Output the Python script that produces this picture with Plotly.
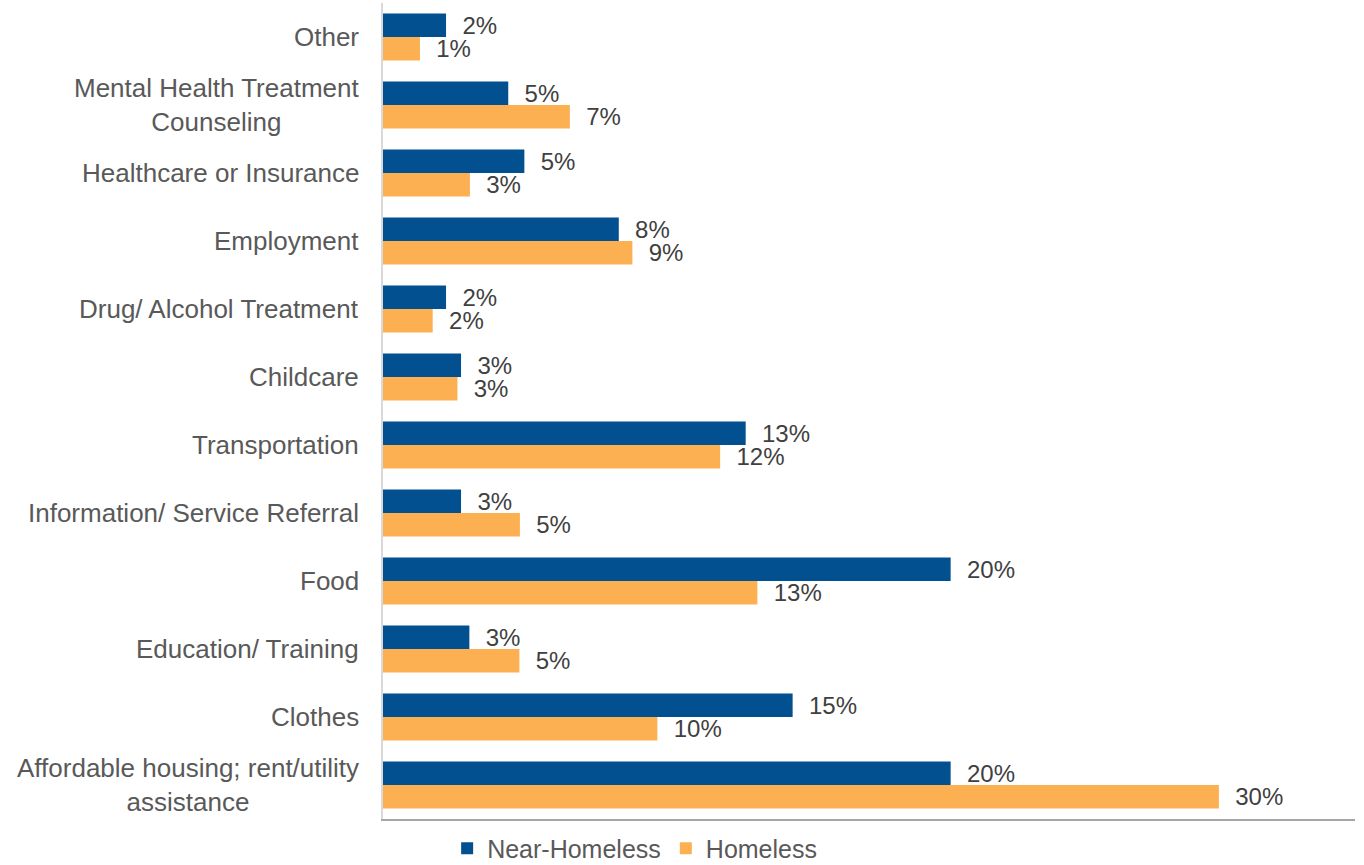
import plotly.graph_objects as go

categories = [
    "Other",
    "Mental Health Treatment<br>Counseling",
    "Healthcare or Insurance",
    "Employment",
    "Drug/ Alcohol Treatment",
    "Childcare",
    "Transportation",
    "Information/ Service Referral",
    "Food",
    "Education/ Training",
    "Clothes",
    "Affordable housing; rent/utility<br>assistance",
]
near_homeless = [2.27, 4.51, 5.09, 8.49, 2.27, 2.81, 13.06, 2.81, 20.44, 3.11, 14.75, 20.44]
homeless = [1.33, 6.73, 3.13, 8.98, 1.79, 2.68, 12.14, 4.93, 13.48, 4.91, 9.88, 30.10]
series_names = ["Near-Homeless", "Homeless"]
series_colors = ["#02508F", "#FDB052"]

FONT = "Liberation Sans, Arial, sans-serif"
LABEL_GRAY = "#595959"
VALUE_GRAY = "#404040"

fig = go.Figure()
for name, vals, col in zip(series_names, [near_homeless, homeless], series_colors):
    fig.add_trace(go.Bar(
        y=categories, x=vals, name=name, orientation="h",
        marker=dict(color=col, line=dict(width=0)),
        texttemplate="\u00a0\u00a0%{x:.0f}%", textposition="outside",
        constraintext="none",
        textfont=dict(family=FONT, size=24, color=VALUE_GRAY),
        cliponaxis=False,
    ))

for c in categories:
    fig.add_annotation(
        x=0, xref="paper", y=c, yref="y", text=c, showarrow=False,
        xanchor="right", yanchor="middle", align="center", xshift=-22,
        font=dict(family=FONT, size=26, color=LABEL_GRAY),
    )

fig.update_layout(
    width=1364, height=865,
    margin=dict(l=383, r=9, t=3, b=46, autoexpand=False),
    barmode="group", bargap=0.31, bargroupgap=0,
    plot_bgcolor="white", paper_bgcolor="white",
    font=dict(family=FONT, size=26, color=LABEL_GRAY),
    legend=dict(orientation="h", x=0.066, y=-0.036, xanchor="left", yanchor="middle",
                font=dict(family=FONT, size=25, color=LABEL_GRAY),
                itemwidth=30, traceorder="normal"),
    xaxis=dict(range=[0, 35], showgrid=False, zeroline=False, showticklabels=False,
               showline=True, linecolor="#A6A6A6", linewidth=2, ticks=""),
    yaxis=dict(autorange="reversed", showgrid=False, zeroline=False, showticklabels=False,
               showline=True, linecolor="#D9D9D9", linewidth=2, ticks=""),
)

fig.write_html("out.html", config={"displayModeBar": False},
               post_script="document.body.style.margin='0px';")
